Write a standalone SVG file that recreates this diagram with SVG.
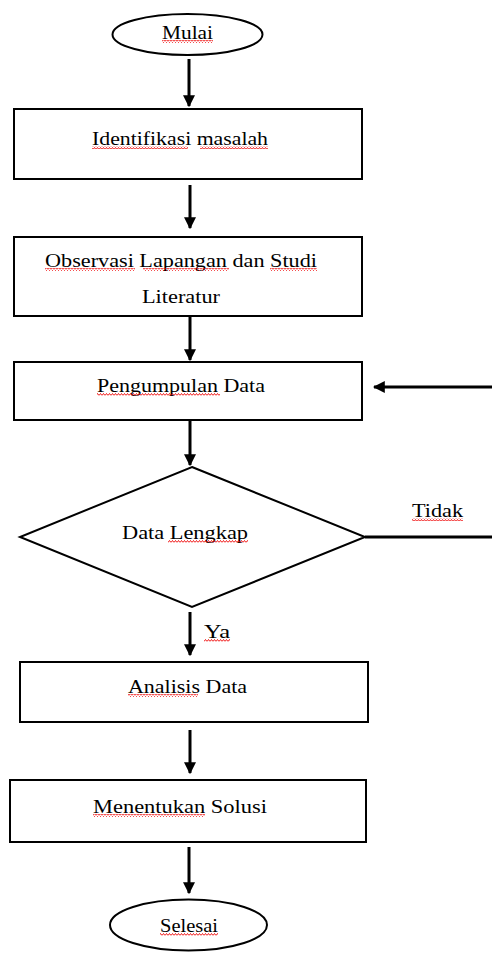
<svg xmlns="http://www.w3.org/2000/svg" width="492" height="955" viewBox="0 0 492 955">
<style>
.box{fill:#fff;stroke:#000;stroke-width:2}
.t{font-family:"Liberation Serif","Times New Roman",serif;font-size:19px;fill:#000}
.c{stroke:#000;stroke-width:3;fill:none}
.sq{fill:url(#wave)}
</style>
<defs>
<marker id="ah" markerWidth="4" markerHeight="4" refX="3.6" refY="2" orient="auto" markerUnits="strokeWidth">
<path d="M0,0 L4,2 L0,4 Z" fill="#000"/>
</marker>
<pattern id="wave" width="3" height="3" patternUnits="userSpaceOnUse">
<path d="M0,2.5 L1.5,0.5 L3,2.5" stroke="#e00" stroke-width="0.9" fill="none"/>
</pattern>
</defs>
<rect width="492" height="955" fill="#fff"/>

<g id="connectors">
<line class="c" x1="189" y1="59" x2="189" y2="106" marker-end="url(#ah)"/>
<line class="c" x1="190" y1="185" x2="190" y2="228" marker-end="url(#ah)"/>
<line class="c" x1="190" y1="316" x2="190" y2="360" marker-end="url(#ah)"/>
<line class="c" x1="190" y1="420" x2="190" y2="465" marker-end="url(#ah)"/>
<line class="c" x1="365" y1="537" x2="492" y2="537"/>
<line class="c" x1="492" y1="387" x2="374" y2="387" marker-end="url(#ah)"/>
<line class="c" x1="190" y1="612" x2="190" y2="655" marker-end="url(#ah)"/>
<line class="c" x1="190" y1="730" x2="190" y2="773" marker-end="url(#ah)"/>
<line class="c" x1="189" y1="847" x2="189" y2="893" marker-end="url(#ah)"/>
<text class="t" x="412" y="517" textLength="51" lengthAdjust="spacingAndGlyphs">Tidak</text>
<rect class="sq" x="412" y="518" width="51" height="3"/>
<text class="t" x="204" y="638" textLength="26" lengthAdjust="spacingAndGlyphs">Ya</text>
<rect class="sq" x="204" y="639" width="26" height="3"/>
</g>

<g id="mulai">
<ellipse class="box" cx="187.5" cy="34.5" rx="75" ry="20.5"/>
<text class="t" x="162" y="39" textLength="51" lengthAdjust="spacingAndGlyphs">Mulai</text>
<rect class="sq" x="162" y="40" width="51" height="3"/>
</g>

<g id="identifikasi">
<rect class="box" x="14" y="109" width="348" height="70"/>
<text class="t" x="92" y="145" textLength="176" lengthAdjust="spacingAndGlyphs">Identifikasi masalah</text>
<rect class="sq" x="92" y="146" width="96" height="3"/>
<rect class="sq" x="200" y="146" width="68" height="3"/>
</g>

<g id="observasi">
<rect class="box" x="14" y="237" width="348" height="79"/>
<text class="t" x="45" y="267" textLength="272" lengthAdjust="spacingAndGlyphs">Observasi Lapangan dan Studi</text>
<text class="t" x="142" y="303" textLength="78" lengthAdjust="spacingAndGlyphs">Literatur</text>
<rect class="sq" x="45" y="268" width="90" height="3"/>
<rect class="sq" x="143" y="268" width="86" height="3"/>
<rect class="sq" x="270" y="268" width="47" height="3"/>
</g>

<g id="pengumpulan">
<rect class="box" x="14" y="362" width="348" height="58"/>
<text class="t" x="97" y="392" textLength="168" lengthAdjust="spacingAndGlyphs">Pengumpulan Data</text>
<rect class="sq" x="97" y="393" width="123" height="3"/>
</g>

<g id="lengkap">
<polygon class="box" points="192,467 365,537 192,607 20,537"/>
<text class="t" x="122" y="539" textLength="126" lengthAdjust="spacingAndGlyphs">Data Lengkap</text>
<rect class="sq" x="168" y="540" width="80" height="3"/>
</g>

<g id="analisis">
<rect class="box" x="20" y="662" width="348" height="60"/>
<text class="t" x="128" y="693" textLength="119" lengthAdjust="spacingAndGlyphs">Analisis Data</text>
<rect class="sq" x="128" y="694" width="70" height="3"/>
</g>

<g id="menentukan">
<rect class="box" x="10" y="780" width="356" height="62"/>
<text class="t" x="93" y="813" textLength="174" lengthAdjust="spacingAndGlyphs">Menentukan Solusi</text>
<rect class="sq" x="93" y="814" width="112" height="3"/>
</g>

<g id="selesai">
<ellipse class="box" cx="188.5" cy="925" rx="78.5" ry="25.5"/>
<text class="t" x="160" y="932" textLength="58" lengthAdjust="spacingAndGlyphs">Selesai</text>
<rect class="sq" x="160" y="933" width="58" height="3"/>
</g>
</svg>
